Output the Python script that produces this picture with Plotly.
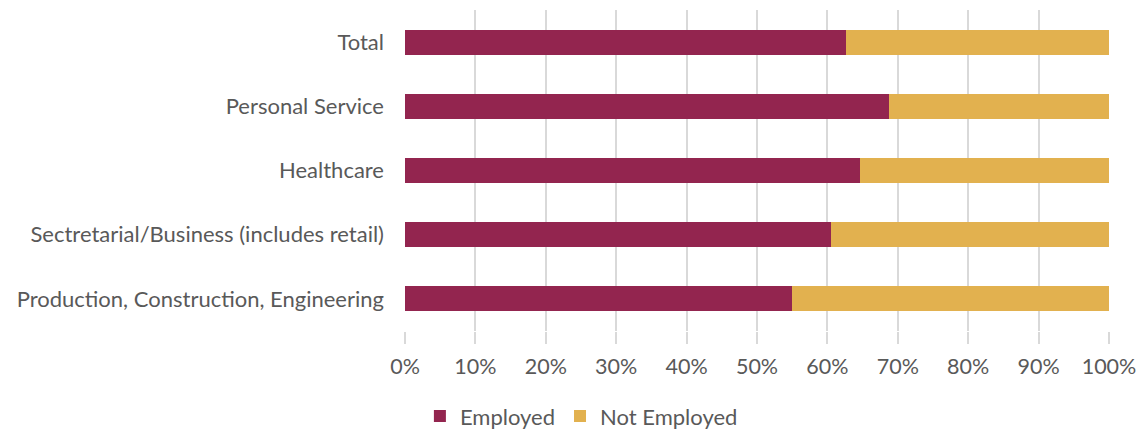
import plotly.graph_objects as go

categories = ["Total", "Personal Service", "Healthcare",
              "Sectretarial/Business (includes retail)",
              "Production, Construction, Engineering"]
employed = [62.6, 68.8, 64.7, 60.5, 55.0]
not_employed = [round(100 - v, 1) for v in employed]
tick_vals = [0, 10, 20, 30, 40, 50, 60, 70, 80, 90, 100]
tick_text = [f"{v}%" for v in tick_vals]

fig = go.Figure()
fig.add_trace(go.Bar(y=categories, x=employed, name="Employed", orientation="h",
                     marker=dict(color="#93254F", line=dict(width=0))))
fig.add_trace(go.Bar(y=categories, x=not_employed, name="Not Employed", orientation="h",
                     marker=dict(color="#E2B14F", line=dict(width=0))))

fam = "Lato, Noto Sans, sans-serif"
cat_font = dict(family=fam, size=22, color="#595959")
x_font = dict(family=fam, size=21.5, color="#595959")
fig.update_layout(
    barmode="stack",
    bargap=0.61,
    width=1140, height=430,
    margin=dict(l=405, r=31, t=10, b=99, autoexpand=False),
    paper_bgcolor="white", plot_bgcolor="white",
    font=cat_font,
    showlegend=True,
    legend=dict(orientation="h", xref="container", yref="container",
                x=0.51, xanchor="center", y=0.032, yanchor="middle",
                font=dict(family=fam, size=22, color="#595959"),
                itemwidth=30, traceorder="normal"),
    xaxis=dict(range=[0, 100], tickvals=tick_vals, ticktext=tick_text,
               showgrid=True, gridcolor="#D9D9D9", gridwidth=2,
               ticks="outside", ticklen=12, tickcolor="#D9D9D9", tickwidth=2,
               ticklabelstandoff=4, automargin=False,
               zeroline=False, showline=False, tickfont=x_font),
    yaxis=dict(autorange="reversed", showgrid=False, zeroline=False,
               showline=False, ticks="", ticklabelstandoff=20, automargin=False,
               tickfont=cat_font),
)
fig.write_html("out.html")
